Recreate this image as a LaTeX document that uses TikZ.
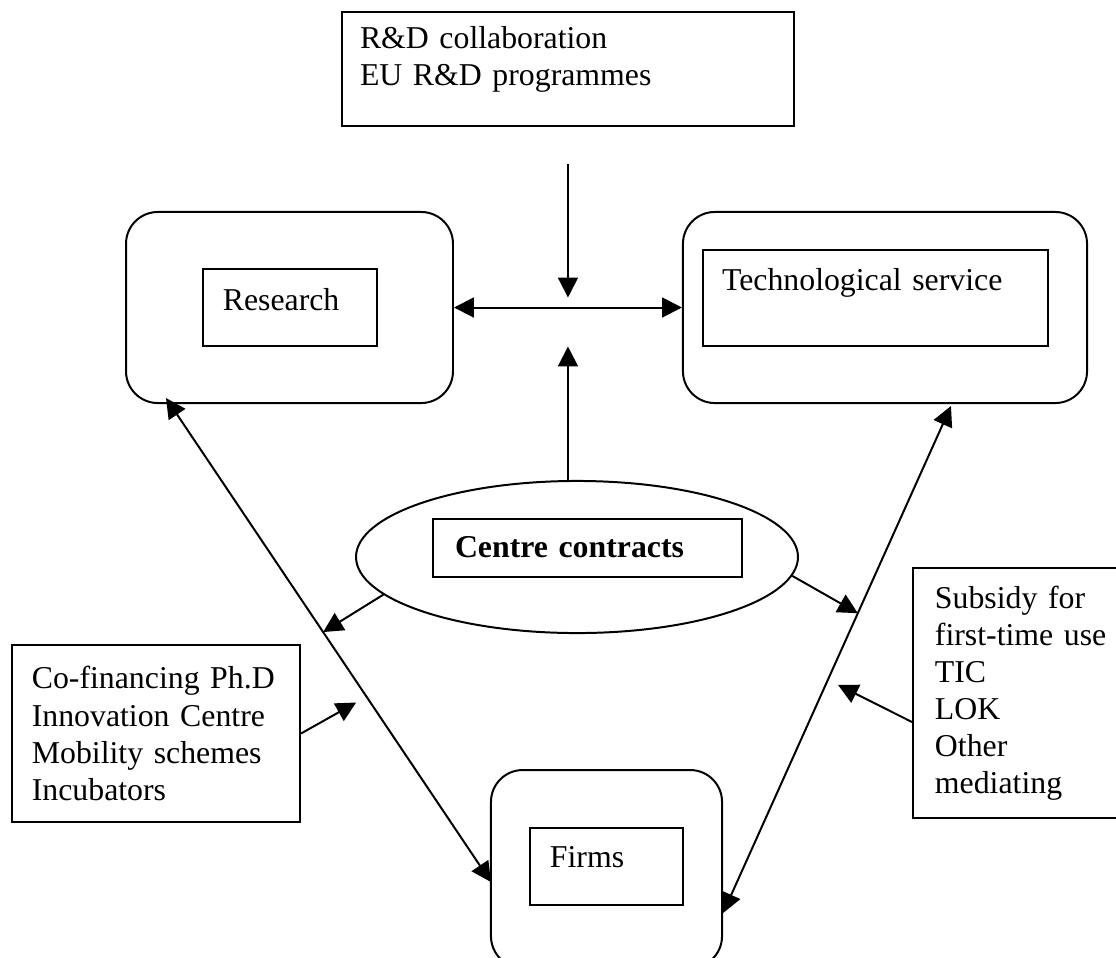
\documentclass[tikz,border=0pt]{standalone}
\usepackage{fontspec}
\setmainfont{Liberation Serif}
\usetikzlibrary{arrows.meta,positioning,shapes.geometric,calc}

\begin{document}
\begin{tikzpicture}[
    x=0.3774pt, y=-0.3774pt,
    line width=0.75pt,
    font=\fontsize{12}{14}\selectfont,
    box/.style={rectangle, draw, inner ysep=0pt, align=left},
    panel/.style={rectangle, draw, rounded corners=12pt},
    arrow/.style={-{Triangle[length=7.5pt, width=7.5pt]}},
    dblarrow/.style={{Triangle[length=7.5pt, width=7.5pt]}-{Triangle[length=7.5pt, width=7.5pt]}}
]
\clip (0,0) rectangle (1116,957);

% Nodes
\node[box, inner xsep=6.8pt, text width=157pt, minimum height=43pt] (rd) at (568,69) {R\&D collaboration\\EU R\&D programmes\\[-4pt]~};
\node[panel, minimum width=123.4pt, minimum height=72.1pt] (res) at (289.5,307.5) {};
\node[box, inner xsep=7.5pt, text width=50.7pt, text height=15.5pt, text depth=13.6pt] (resin) at (290,307.5) {Research};
\node[panel, minimum width=152.5pt, minimum height=72.1pt] (tech) at (885,307.5) {};
\node[box, inner xsep=7.2pt, text width=115.8pt, text height=15.1pt, text depth=21.1pt] (techin) at (875.5,298) {Technological service};
\node[ellipse, draw, minimum width=166.8pt, minimum height=57.4pt, inner sep=0pt] (ell) at (577,557) {};
\node[box, inner xsep=8.3pt, text width=100pt, text height=14.7pt, text depth=7.2pt] (ccin) at (587.5,548) {\textbf{Centre contracts}};
\node[box, inner xsep=7.5pt, text width=93.7pt, minimum height=66.8pt] (fin) at (156,733.5) {Co-financing Ph.D\\Innovation Centre\\Mobility schemes\\Incubators};
\node[box, inner xsep=8.3pt, text width=66pt, minimum height=94.3pt] (sub) at (1022.4,693) {Subsidy for\\first-time use\\TIC\\LOK\\Other\\mediating};
\node[panel, minimum width=87.2pt, minimum height=74.7pt] (firm) at (606.5,869) {};
\node[box, inner xsep=7.5pt, text width=42.7pt, text height=15.1pt, text depth=14pt] (firmin) at (606.5,866.5) {Firms};

% Arrows
\coordinate (hub) at ($(res.east)!0.5!(tech.west)$);
\draw[dblarrow] (res.east) -- (tech.west);
\draw[arrow] ($(rd.south -| hub)+(0,37)$) -- ($(hub)+(0,-10)$);
\draw[arrow] (ell.north -| hub) -- ($(hub)+(0,39)$);
\draw[dblarrow] ($(res.south west)+(41,-6)$) -- coordinate[pos=0.4835] (lhit) coordinate[pos=0.617] (lmid) ($(firm.north west)+(1,113)$);
\draw[dblarrow] ($(tech.south west)+(269,2)$) -- coordinate[pos=0.4086] (rhit) coordinate[pos=0.540] (rmid) ($(firm.north east)+(0,144)$);
\draw[arrow] (ell.191) -- (lhit);
\draw[arrow] (ell.355) -- (rhit);
\draw[arrow, shorten >=4.5pt] (fin.east) -- (lmid);
\draw[arrow, shorten >=4.3pt] ($(sub.west)+(0,29)$) -- (rmid);
\end{tikzpicture}
\end{document}
